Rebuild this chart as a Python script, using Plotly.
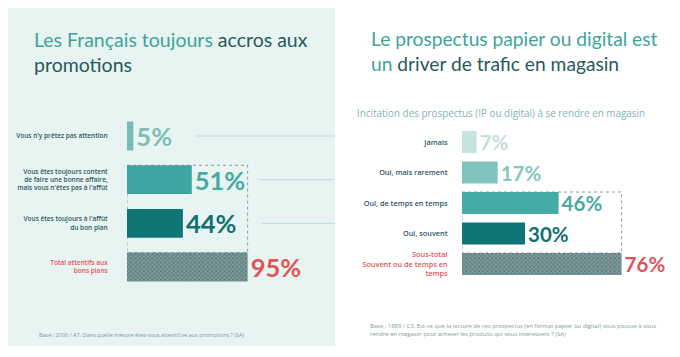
import plotly.graph_objects as go

# ---------------- data ----------------
left_categories = [
    "Vous n'y prêtez pas attention",
    "Vous êtes toujours content<br>de faire une bonne affaire,<br>mais vous n'êtes pas à l'affût",
    "Vous êtes toujours à l'affût<br>du bon plan",
    "Total attentifs aux<br>bons plans",
]
left_values = [5, 51, 44, 95]

right_categories = [
    "Jamais",
    "Oui, mais rarement",
    "Oui, de temps en temps",
    "Oui, souvent",
    "Sous-total<br>Souvent ou de temps en<br>temps",
]
right_values = [7, 17, 46, 30, 76]

# ---------------- styles ----------------
# the page body has an 8px margin: the figure is drawn 8px in from the corner
OFF = 8
W, H = 680 - 2 * OFF, 357 - 2 * OFF
RED = "#e0555a"
LABEL = "#2e5861"
HATCH_BG = "#7b9e9d"
HATCH_FG = "#3f6b6c"

left_bar_colors = ["#79bcb5", "#3ea5a3", "#0f7577", HATCH_BG]
left_text_colors = ["#7dbdb6", "#47a9a5", "#12706f", RED]
left_patterns = ["", "", "", "x"]

right_bar_colors = ["#c6e3df", "#7fc4bc", "#44aba7", "#0f7577", HATCH_BG]
right_text_colors = ["#c3dfdb", "#86c6bf", "#4aa9a5", "#157070", RED]
right_patterns = ["", "", "", "", "x"]

PCT_FONT = "Lato"
TXT_FONT = "Open Sans"


def px_x(px):
    return min(1.0, max(0.0, (px - OFF) / W))


def px_y(py):
    return min(1.0, max(0.0, 1 - (py - OFF) / H))


def tick_text(cats, red_last):
    out = []
    for i, c in enumerate(cats):
        if red_last and i == len(cats) - 1:
            out.append("<br>".join(f"<span style='color:{RED}'>{p}</span>" for p in c.split("<br>")))
        else:
            out.append(c)
    return out


fig = go.Figure()

# left panel background
fig.add_shape(type="rect", xref="paper", yref="paper",
              x0=px_x(8), x1=px_x(335), y0=px_y(346), y1=px_y(8),
              fillcolor="#e7f4f1", line=dict(width=0), layer="below")

# ---------------- left chart ----------------
fig.add_trace(go.Bar(
    x=left_values, y=list(range(len(left_values))), orientation="h",
    xaxis="x", yaxis="y", width=0.66,
    marker=dict(color=left_bar_colors, line=dict(width=0),
                pattern=dict(shape=left_patterns, fgcolor=HATCH_FG, size=3, solidity=0.45)),
    text=[f"{v}%" for v in left_values], textposition="outside",
    textfont=dict(family=PCT_FONT, size=25.5, color=left_text_colors, weight=700),
    constraintext="none", cliponaxis=False, showlegend=False, hoverinfo="skip",
))

# ---------------- right chart ----------------
fig.add_trace(go.Bar(
    x=right_values, y=list(range(len(right_values))), orientation="h",
    xaxis="x2", yaxis="y2", width=0.72,
    marker=dict(color=right_bar_colors, line=dict(width=0),
                pattern=dict(shape=right_patterns, fgcolor=HATCH_FG, size=3, solidity=0.45)),
    text=[f"{v}%" for v in right_values], textposition="outside",
    textfont=dict(family=PCT_FONT, size=20.5, color=right_text_colors, weight=700),
    constraintext="none", cliponaxis=False, showlegend=False, hoverinfo="skip",
))

# dashed boxes around the sub-total groups
fig.add_shape(type="rect", xref="x", yref="y", x0=0, x1=left_values[3],
              y0=1 - 0.33, y1=3 - 0.33, line=dict(color="#8d9c9c", width=1, dash="dot"),
              layer="below")
fig.add_shape(type="rect", xref="x2", yref="y2", x0=0, x1=right_values[4],
              y0=2 - 0.36, y1=4 - 0.36, line=dict(color="#8d9c9c", width=1, dash="dot"),
              layer="below")

# decorative thin lines on the left panel
for yi, x0 in [(0, 54), (1, 104), (2, 106)]:
    fig.add_shape(type="line", xref="x", yref="y", x0=x0, x1=163.8, y0=yi, y1=yi,
                  line=dict(color="#bcdcd8", width=1), layer="below")

# ---------------- axes ----------------
R_X0 = 462
R_X1 = OFF + W
fig.update_layout(
    xaxis=dict(domain=[px_x(127), px_x(335)], range=[0, 208 / 1.27],
               visible=False, fixedrange=True),
    yaxis=dict(domain=[px_y(288.8), px_y(114.2)], range=[3.5, -0.5],
               tickvals=list(range(len(left_categories))),
               ticktext=tick_text(left_categories, True),
               showgrid=False, zeroline=False, showline=False,
               ticks="outside", ticklen=17, tickcolor="rgba(0,0,0,0)",
               tickfont=dict(family=TXT_FONT, size=6.5, color=LABEL, weight=600)),
    xaxis2=dict(domain=[px_x(R_X0), px_x(R_X1)], range=[0, (R_X1 - R_X0) / 2.1], anchor="y2",
                visible=False, fixedrange=True),
    yaxis2=dict(domain=[px_y(279.25), px_y(126.75)], range=[4.5, -0.5], anchor="x2",
                tickvals=list(range(len(right_categories))),
                ticktext=tick_text(right_categories, True),
                showgrid=False, zeroline=False, showline=False,
                ticks="outside", ticklen=12, tickcolor="rgba(0,0,0,0)",
                tickfont=dict(family=TXT_FONT, size=7.3, color=LABEL, weight=600)),
    width=W, height=H, margin=dict(l=0, r=0, t=0, b=0),
    paper_bgcolor="white", plot_bgcolor="rgba(0,0,0,0)",
    bargap=0.3,
)

TEAL_T = "#3fa39b"
DARK_T = "#285a5c"
ann = [
    # left title
    dict(x=px_x(32), y=px_y(52),
         text=f"<span style='color:{TEAL_T}'>Les Français toujours</span> accros aux<br>promotions",
         font=dict(family="Lato", size=19.5, color=DARK_T)),
    # right title
    dict(x=px_x(369), y=px_y(51),
         text=f"<span style='color:{TEAL_T}'>Le prospectus papier ou digital est</span><br>"
              f"<span style='color:{TEAL_T}'>un</span> driver de trafic en magasin",
         font=dict(family="Lato", size=19.2, color=DARK_T)),
    # right subtitle
    dict(x=px_x(355), y=px_y(113), text="Incitation des prospectus (IP ou digital) à se rendre en magasin",
         font=dict(family=TXT_FONT, size=9.9, color="#80b6b2")),
    # footnotes
    dict(x=px_x(37), y=px_y(335), text="Base : 2006 / A7. Dans quelle mesure êtes-vous attentif.ve aux promotions ? (SA)",
         font=dict(family=TXT_FONT, size=5.5, color="#7b9a9b")),
    dict(x=px_x(368), y=px_y(330),
         text="Base : 1889 / C3. Est-ce que la lecture de ces prospectus (en format papier ou digital) vous pousse à vous<br>"
              "rendre en magasin pour acheter les produits qui vous intéressent ? (SA)",
         font=dict(family=TXT_FONT, size=5.9, color="#7b9a9b")),
]
for a in ann:
    fig.add_annotation(xref="paper", yref="paper", xanchor="left", yanchor="middle",
                       align="left", showarrow=False, **a)

fig.write_html("out.html")
